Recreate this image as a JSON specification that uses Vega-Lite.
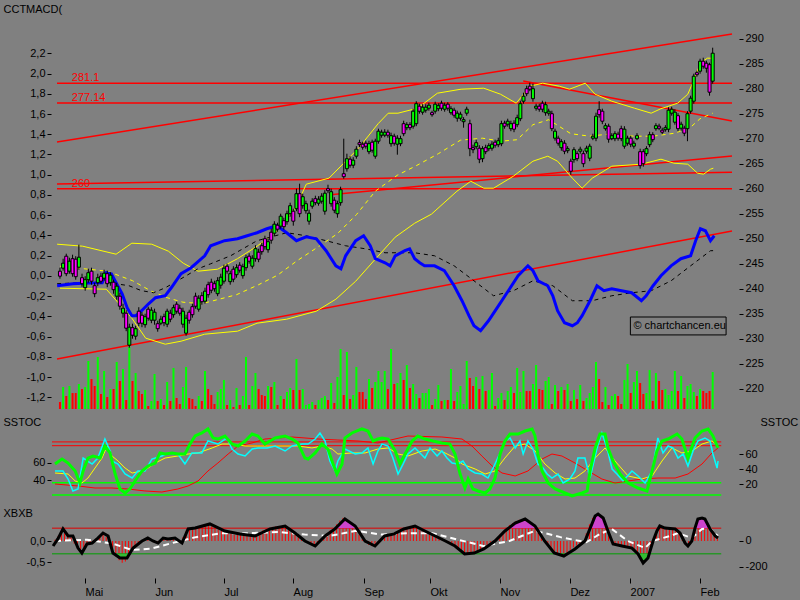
{
"$schema":"https://vega.github.io/schema/vega-lite/v6.json",
"background":"#808080",
"padding":{"left":3,"top":3,"right":6,"bottom":3},
"autosize":{"type":"pad"},
"spacing":10,
"bounds":"flush",
"config":{
 "view":{"stroke":null},
 "axis":{"grid":false,"domain":false,"tickColor":"#000000","tickSize":4,"labelColor":"#000000","labelFont":"Liberation Sans","labelFontSize":11,"titleFont":"Liberation Sans","titleFontSize":11,"titleFontWeight":"normal","titleColor":"#000000","labelPadding":2}
},
"datasets":{
"c":[
{"t":0,"o":243.5,"h":244.2,"l":242,"c":242.5,"v":7,"hb":10},
{"t":1,"o":244.1,"h":246,"l":243.6,"c":245.1,"v":22,"hb":40},
{"t":2,"o":246.5,"h":247,"l":242.5,"c":243,"v":13,"hb":80},
{"t":3,"o":243.5,"h":246.2,"l":243,"c":245.5,"v":23,"hb":60},
{"t":4,"o":246,"h":246.8,"l":242.4,"c":243,"v":16,"hb":35},
{"t":5,"o":245.9,"h":246.5,"l":241.8,"c":242.4,"v":16,"hb":30},
{"t":6,"o":244.3,"h":248.8,"l":243.8,"c":246.3,"v":25,"hb":-20},
{"t":7,"o":242.2,"h":243,"l":240.4,"c":241,"v":20,"hb":-50},
{"t":8,"o":240.2,"h":242.5,"l":239.6,"c":241.8,"v":22,"hb":-80},
{"t":9,"o":241.8,"h":244,"l":241.2,"c":243.2,"v":48,"hb":-50},
{"t":10,"o":243.5,"h":244.2,"l":240.8,"c":241.5,"v":30,"hb":-20},
{"t":11,"o":240.6,"h":241.2,"l":238.3,"c":239,"v":23,"hb":-10},
{"t":12,"o":241.2,"h":243,"l":240.5,"c":242.2,"v":52,"hb":5},
{"t":13,"o":242.5,"h":243.2,"l":241,"c":241.5,"v":15,"hb":20},
{"t":14,"o":242.1,"h":243.8,"l":241.6,"c":243.1,"v":38,"hb":45},
{"t":15,"o":243,"h":243.6,"l":240.3,"c":241,"v":12,"hb":55},
{"t":16,"o":241.2,"h":243.3,"l":240.6,"c":242.7,"v":20,"hb":30},
{"t":17,"o":241.3,"h":241.8,"l":239,"c":239.8,"v":20,"hb":-30},
{"t":18,"o":238.5,"h":241.2,"l":237.8,"c":240.5,"v":47,"hb":-90},
{"t":19,"o":238.5,"h":239.2,"l":235.8,"c":236.5,"v":28,"hb":-120},
{"t":20,"o":235.1,"h":237,"l":234.2,"c":236.1,"v":40,"hb":-150},
{"t":21,"o":235.1,"h":235.7,"l":231.5,"c":232.1,"v":9,"hb":-170},
{"t":22,"o":228.7,"h":233,"l":228.2,"c":232.3,"v":62,"hb":-160},
{"t":23,"o":232.2,"h":233,"l":230,"c":230.7,"v":28,"hb":-120},
{"t":24,"o":230.5,"h":232.6,"l":229.8,"c":232,"v":36,"hb":-70},
{"t":25,"o":235.5,"h":236.3,"l":232.5,"c":233.1,"v":18,"hb":-40},
{"t":26,"o":234.7,"h":235.3,"l":232.3,"c":233.1,"v":15,"hb":-15},
{"t":27,"o":232.8,"h":235,"l":232.2,"c":234.4,"v":19,"hb":0},
{"t":28,"o":235.9,"h":236.4,"l":233.6,"c":234.1,"v":3,"hb":15},
{"t":29,"o":233.7,"h":236.3,"l":233.1,"c":235.7,"v":8,"hb":20},
{"t":30,"o":233.7,"h":236,"l":232.8,"c":235.3,"v":35,"hb":5},
{"t":31,"o":233,"h":233.6,"l":231.4,"c":232,"v":8,"hb":-10},
{"t":32,"o":233.1,"h":234.6,"l":232.7,"c":233.9,"v":10,"hb":-5},
{"t":33,"o":234.4,"h":235,"l":232.5,"c":233.2,"v":4,"hb":15},
{"t":34,"o":232.9,"h":236,"l":232.3,"c":235.5,"v":27,"hb":20},
{"t":35,"o":235.1,"h":235.8,"l":233.3,"c":233.9,"v":8,"hb":15},
{"t":36,"o":234.8,"h":236.8,"l":234.2,"c":236.2,"v":41,"hb":20},
{"t":37,"o":236.9,"h":237.4,"l":235,"c":235.5,"v":11,"hb":20},
{"t":38,"o":236.1,"h":236.8,"l":234.6,"c":235.1,"v":5,"hb":0},
{"t":39,"o":232.9,"h":236.2,"l":232.2,"c":235.5,"v":22,"hb":-15},
{"t":40,"o":231.1,"h":234.8,"l":230.6,"c":234.1,"v":42,"hb":30},
{"t":41,"o":235.3,"h":235.8,"l":233,"c":233.7,"v":11,"hb":80},
{"t":42,"o":236.4,"h":237,"l":234.2,"c":234.8,"v":10,"hb":95},
{"t":43,"o":238.5,"h":239.2,"l":236,"c":236.5,"v":3,"hb":100},
{"t":44,"o":235.9,"h":238.7,"l":235.4,"c":238.1,"v":13,"hb":105},
{"t":45,"o":238.6,"h":239.3,"l":236.8,"c":237.4,"v":8,"hb":110},
{"t":46,"o":237.5,"h":240.2,"l":237,"c":239.5,"v":38,"hb":120},
{"t":47,"o":240.8,"h":241.4,"l":238.2,"c":238.8,"v":20,"hb":125},
{"t":48,"o":241.3,"h":242,"l":239.1,"c":239.7,"v":14,"hb":130},
{"t":49,"o":241,"h":241.6,"l":239.4,"c":240,"v":5,"hb":115},
{"t":50,"o":239,"h":242.3,"l":238.5,"c":241.6,"v":17,"hb":100},
{"t":51,"o":240.7,"h":243,"l":240,"c":242.3,"v":20,"hb":90},
{"t":52,"o":241.5,"h":244.8,"l":241,"c":244.1,"v":29,"hb":80},
{"t":53,"o":244.5,"h":245,"l":243,"c":243.5,"v":4,"hb":70},
{"t":54,"o":241.4,"h":243.6,"l":240.8,"c":243,"v":9,"hb":60},
{"t":55,"o":243.9,"h":244.5,"l":241.3,"c":241.9,"v":2,"hb":55},
{"t":56,"o":242.8,"h":244.9,"l":242.2,"c":244.2,"v":21,"hb":50},
{"t":57,"o":244.7,"h":245.3,"l":243.2,"c":243.7,"v":4,"hb":55},
{"t":58,"o":242.6,"h":245,"l":242,"c":244.4,"v":13,"hb":50},
{"t":59,"o":244.2,"h":246.8,"l":243.6,"c":246.2,"v":52,"hb":45},
{"t":60,"o":246.5,"h":247.1,"l":245,"c":245.5,"v":4,"hb":40},
{"t":61,"o":244.5,"h":246.7,"l":244,"c":246.1,"v":23,"hb":35},
{"t":62,"o":246,"h":248.7,"l":245.4,"c":248,"v":36,"hb":40},
{"t":63,"o":247.3,"h":248,"l":245.3,"c":245.9,"v":20,"hb":55},
{"t":64,"o":248.6,"h":249.2,"l":246.8,"c":247.4,"v":14,"hb":70},
{"t":65,"o":250,"h":250.6,"l":247.8,"c":248.4,"v":13,"hb":85},
{"t":66,"o":247.8,"h":250,"l":247.2,"c":249.4,"v":23,"hb":95},
{"t":67,"o":251.3,"h":252,"l":249,"c":249.7,"v":22,"hb":100},
{"t":68,"o":251.1,"h":253.5,"l":250.5,"c":252.9,"v":27,"hb":110},
{"t":69,"o":252.7,"h":253.2,"l":251.4,"c":251.9,"v":4,"hb":115},
{"t":70,"o":252.5,"h":255,"l":252,"c":254.5,"v":13,"hb":115},
{"t":71,"o":253.6,"h":254.2,"l":251.8,"c":252.4,"v":10,"hb":110},
{"t":72,"o":253.4,"h":255.6,"l":252.8,"c":255,"v":17,"hb":100},
{"t":73,"o":255,"h":257.2,"l":254.4,"c":256.6,"v":21,"hb":85},
{"t":74,"o":255.5,"h":256,"l":252.6,"c":253.5,"v":19,"hb":65},
{"t":75,"o":256,"h":260,"l":255.5,"c":259,"v":50,"hb":50},
{"t":76,"o":259,"h":261,"l":254.3,"c":255,"v":19,"hb":30},
{"t":77,"o":256.6,"h":259,"l":256,"c":258.4,"v":20,"hb":10},
{"t":78,"o":255.6,"h":257.6,"l":255,"c":257,"v":4,"hb":0},
{"t":79,"o":253.5,"h":255.8,"l":252.8,"c":255.1,"v":5,"hb":-15},
{"t":80,"o":256.5,"h":258.1,"l":256,"c":257.5,"v":7,"hb":-30},
{"t":81,"o":258,"h":258.6,"l":256.7,"c":257.2,"v":4,"hb":-35},
{"t":82,"o":257.1,"h":258.5,"l":256.6,"c":257.9,"v":9,"hb":-20},
{"t":83,"o":257.5,"h":259.1,"l":257,"c":258.5,"v":11,"hb":10},
{"t":84,"o":255.5,"h":259.7,"l":254.8,"c":259.1,"v":13,"hb":40},
{"t":85,"o":260,"h":260.8,"l":259.1,"c":259.6,"v":9,"hb":60},
{"t":86,"o":257,"h":260,"l":256.4,"c":259.4,"v":26,"hb":85},
{"t":87,"o":257.7,"h":258.3,"l":255.1,"c":255.7,"v":6,"hb":100},
{"t":88,"o":255,"h":257.6,"l":254.2,"c":257,"v":32,"hb":130},
{"t":89,"o":257.2,"h":260.4,"l":256.6,"c":259.8,"v":60,"hb":160},
{"t":90,"o":263,"h":270,"l":262,"c":262.4,"v":14,"hb":180},
{"t":91,"o":264,"h":267,"l":263.4,"c":266,"v":57,"hb":165},
{"t":92,"o":265.9,"h":266.5,"l":264.2,"c":264.7,"v":10,"hb":140},
{"t":93,"o":264.7,"h":266.3,"l":264.1,"c":265.7,"v":14,"hb":120},
{"t":94,"o":266.5,"h":268.5,"l":266,"c":267.9,"v":42,"hb":90},
{"t":95,"o":269.2,"h":269.8,"l":268.3,"c":268.8,"v":17,"hb":50},
{"t":96,"o":268.9,"h":269.4,"l":267.8,"c":268.3,"v":17,"hb":15},
{"t":97,"o":269.1,"h":269.6,"l":268,"c":268.5,"v":10,"hb":-10},
{"t":98,"o":267.4,"h":269.6,"l":266.9,"c":269,"v":30,"hb":-30},
{"t":99,"o":269.3,"h":269.8,"l":267.2,"c":267.7,"v":21,"hb":-40},
{"t":100,"o":266.5,"h":270,"l":266,"c":269.5,"v":27,"hb":-35},
{"t":101,"o":269.5,"h":272,"l":269,"c":271.5,"v":38,"hb":-10},
{"t":102,"o":270.7,"h":271.8,"l":270.2,"c":271.3,"v":27,"hb":20},
{"t":103,"o":270.7,"h":271.9,"l":270.3,"c":271.3,"v":38,"hb":40},
{"t":104,"o":271.3,"h":271.8,"l":270.2,"c":270.7,"v":20,"hb":50},
{"t":105,"o":269,"h":271.2,"l":268.4,"c":270.6,"v":60,"hb":55},
{"t":106,"o":270.5,"h":271,"l":268.6,"c":269.1,"v":25,"hb":60},
{"t":107,"o":268.9,"h":270.7,"l":266.8,"c":270.1,"v":26,"hb":75},
{"t":108,"o":269,"h":270.6,"l":268.5,"c":270,"v":36,"hb":90},
{"t":109,"o":273,"h":273.6,"l":270.5,"c":271,"v":29,"hb":100},
{"t":110,"o":272.2,"h":273.3,"l":271.7,"c":272.8,"v":44,"hb":110},
{"t":111,"o":272.8,"h":273.3,"l":271.7,"c":272.2,"v":21,"hb":115},
{"t":112,"o":272.5,"h":276,"l":272,"c":275.5,"v":25,"hb":115},
{"t":113,"o":273,"h":277.5,"l":272.5,"c":277,"v":15,"hb":100},
{"t":114,"o":276.5,"h":277,"l":275,"c":275.5,"v":11,"hb":85},
{"t":115,"o":275.3,"h":276.9,"l":274.8,"c":276.3,"v":16,"hb":75},
{"t":116,"o":275.7,"h":276.9,"l":275.2,"c":276.3,"v":16,"hb":65},
{"t":117,"o":276.1,"h":277.2,"l":275.6,"c":276.7,"v":20,"hb":55},
{"t":118,"o":275.2,"h":275.6,"l":274.4,"c":274.8,"v":4,"hb":40},
{"t":119,"o":275.5,"h":277.4,"l":275,"c":276.9,"v":10,"hb":30},
{"t":120,"o":276,"h":277.1,"l":275.5,"c":276.6,"v":24,"hb":15},
{"t":121,"o":277.1,"h":277.6,"l":275.6,"c":276.1,"v":8,"hb":5},
{"t":122,"o":275.9,"h":277.2,"l":275.4,"c":276.7,"v":9,"hb":-5},
{"t":123,"o":276.9,"h":277.3,"l":275.6,"c":276.1,"v":9,"hb":-15},
{"t":124,"o":275.2,"h":276.5,"l":274.8,"c":276,"v":40,"hb":-30},
{"t":125,"o":275.7,"h":276.2,"l":274.2,"c":274.7,"v":8,"hb":-45},
{"t":126,"o":274.1,"h":275.6,"l":273.4,"c":275.1,"v":17,"hb":-65},
{"t":127,"o":274.1,"h":275.4,"l":273.6,"c":274.9,"v":23,"hb":-85},
{"t":128,"o":273.4,"h":274.3,"l":272.2,"c":273.8,"v":5,"hb":-100},
{"t":129,"o":275.1,"h":276.4,"l":274.6,"c":275.9,"v":48,"hb":-100},
{"t":130,"o":273,"h":273.8,"l":266.5,"c":268,"v":31,"hb":-95},
{"t":131,"o":268.2,"h":268.8,"l":267.1,"c":267.8,"v":23,"hb":-90},
{"t":132,"o":268.4,"h":269.8,"l":267.9,"c":269.2,"v":32,"hb":-80},
{"t":133,"o":268.1,"h":268.7,"l":265.1,"c":265.9,"v":20,"hb":-65},
{"t":134,"o":266,"h":268.5,"l":265.3,"c":268,"v":33,"hb":-50},
{"t":135,"o":268.2,"h":268.8,"l":266.9,"c":267.4,"v":18,"hb":-30},
{"t":136,"o":268,"h":269.1,"l":267.5,"c":268.6,"v":19,"hb":-10},
{"t":137,"o":268.1,"h":269.5,"l":267.6,"c":268.9,"v":36,"hb":5},
{"t":138,"o":269.3,"h":269.8,"l":268.2,"c":268.7,"v":3,"hb":25},
{"t":139,"o":268.8,"h":270.2,"l":268.3,"c":269.6,"v":11,"hb":50},
{"t":140,"o":269,"h":273.6,"l":268.5,"c":273,"v":16,"hb":75},
{"t":141,"o":273.1,"h":273.6,"l":272,"c":272.5,"v":9,"hb":105},
{"t":142,"o":272.9,"h":274,"l":272.4,"c":273.5,"v":18,"hb":125},
{"t":143,"o":272,"h":273.6,"l":271.5,"c":273,"v":22,"hb":140},
{"t":144,"o":273.1,"h":273.7,"l":271.3,"c":271.9,"v":16,"hb":155},
{"t":145,"o":272.8,"h":274.8,"l":272.3,"c":274.2,"v":41,"hb":165},
{"t":146,"o":274,"h":277.6,"l":273.5,"c":277,"v":17,"hb":170},
{"t":147,"o":277.5,"h":279.2,"l":277,"c":278.5,"v":38,"hb":165},
{"t":148,"o":280,"h":280.6,"l":278.5,"c":279,"v":18,"hb":150},
{"t":149,"o":280.5,"h":281.2,"l":279.5,"c":279.9,"v":18,"hb":130},
{"t":150,"o":278,"h":281,"l":277.4,"c":280,"v":25,"hb":110},
{"t":151,"o":276.1,"h":277,"l":275.6,"c":276.5,"v":44,"hb":75},
{"t":152,"o":276.5,"h":277,"l":275.4,"c":275.9,"v":20,"hb":35},
{"t":153,"o":277.1,"h":277.6,"l":275.3,"c":275.9,"v":19,"hb":0},
{"t":154,"o":275.2,"h":277.4,"l":274.6,"c":276.8,"v":28,"hb":-35},
{"t":155,"o":275.1,"h":276,"l":274.6,"c":275.5,"v":32,"hb":-65},
{"t":156,"o":275,"h":275.6,"l":271.5,"c":272,"v":5,"hb":-90},
{"t":157,"o":270.1,"h":272,"l":269.6,"c":271.5,"v":24,"hb":-105},
{"t":158,"o":270.1,"h":270.6,"l":268.6,"c":269.1,"v":18,"hb":-115},
{"t":159,"o":268.2,"h":269.9,"l":267.6,"c":269.4,"v":22,"hb":-110},
{"t":160,"o":269.1,"h":269.7,"l":266.9,"c":267.5,"v":19,"hb":-90},
{"t":161,"o":267.6,"h":268.5,"l":267.1,"c":268,"v":25,"hb":-70},
{"t":162,"o":265.5,"h":266,"l":262.8,"c":263.5,"v":8,"hb":-50},
{"t":163,"o":265.8,"h":268.3,"l":265.2,"c":267.8,"v":19,"hb":-35},
{"t":164,"o":267,"h":267.5,"l":265.5,"c":266,"v":10,"hb":-20},
{"t":165,"o":267.5,"h":268.4,"l":267,"c":267.9,"v":24,"hb":0},
{"t":166,"o":267,"h":267.6,"l":264.3,"c":265,"v":8,"hb":60},
{"t":167,"o":267.5,"h":268.6,"l":267,"c":268.1,"v":11,"hb":130},
{"t":168,"o":266.1,"h":269,"l":265.5,"c":268.5,"v":16,"hb":180},
{"t":169,"o":270.1,"h":271,"l":269.7,"c":270.5,"v":22,"hb":200},
{"t":170,"o":270.1,"h":275.2,"l":269.5,"c":274.5,"v":47,"hb":195},
{"t":171,"o":275.8,"h":277.5,"l":274.2,"c":274.8,"v":30,"hb":170},
{"t":172,"o":275.5,"h":276,"l":272.9,"c":273.5,"v":7,"hb":100},
{"t":173,"o":272,"h":273.1,"l":271.6,"c":272.6,"v":22,"hb":40},
{"t":174,"o":272.5,"h":273,"l":269.2,"c":269.9,"v":4,"hb":-15},
{"t":175,"o":270,"h":271.1,"l":269.7,"c":270.6,"v":13,"hb":-30},
{"t":176,"o":270,"h":271.5,"l":269.5,"c":271,"v":15,"hb":-35},
{"t":177,"o":270.9,"h":271.4,"l":269.6,"c":270.1,"v":13,"hb":-40},
{"t":178,"o":272,"h":272.6,"l":269.5,"c":270,"v":5,"hb":-45},
{"t":179,"o":268.5,"h":272.5,"l":268,"c":271.9,"v":29,"hb":-50},
{"t":180,"o":269.1,"h":270.6,"l":268.6,"c":270.1,"v":45,"hb":-55},
{"t":181,"o":270.1,"h":270.6,"l":268.3,"c":268.9,"v":16,"hb":-70},
{"t":182,"o":268.5,"h":269.6,"l":268,"c":269.1,"v":27,"hb":-100},
{"t":183,"o":270,"h":271.1,"l":269.7,"c":270.6,"v":38,"hb":-140},
{"t":184,"o":267.4,"h":268,"l":264,"c":264.6,"v":26,"hb":-170},
{"t":185,"o":267.4,"h":267.9,"l":264.4,"c":265,"v":15,"hb":-140},
{"t":186,"o":267,"h":268.5,"l":266.5,"c":268,"v":16,"hb":-60},
{"t":187,"o":268.8,"h":271.4,"l":268.3,"c":270.8,"v":39,"hb":20},
{"t":188,"o":270.8,"h":271.3,"l":269.3,"c":269.8,"v":8,"hb":75},
{"t":189,"o":272,"h":273.1,"l":271.6,"c":272.6,"v":36,"hb":110},
{"t":190,"o":272.5,"h":273,"l":271.7,"c":272.1,"v":28,"hb":105},
{"t":191,"o":271.7,"h":272.2,"l":270.9,"c":271.3,"v":19,"hb":100},
{"t":192,"o":271.8,"h":272.7,"l":271.4,"c":272.2,"v":20,"hb":95},
{"t":193,"o":271.9,"h":276.3,"l":271.3,"c":275.7,"v":14,"hb":90},
{"t":194,"o":275.1,"h":276.4,"l":274.6,"c":275.9,"v":18,"hb":80},
{"t":195,"o":273.3,"h":275.9,"l":272.8,"c":275.3,"v":38,"hb":60},
{"t":196,"o":274.6,"h":275.1,"l":271.5,"c":272,"v":18,"hb":10},
{"t":197,"o":272.1,"h":273.4,"l":271.6,"c":272.9,"v":33,"hb":-30},
{"t":198,"o":272.1,"h":272.6,"l":270.5,"c":271.1,"v":11,"hb":-20},
{"t":199,"o":272,"h":275.5,"l":269.5,"c":275,"v":23,"hb":30},
{"t":200,"o":275.5,"h":278.6,"l":275,"c":278.1,"v":25,"hb":100},
{"t":201,"o":277.5,"h":283,"l":277,"c":282.5,"v":17,"hb":170},
{"t":202,"o":283.2,"h":283.6,"l":282.4,"c":282.8,"v":13,"hb":185},
{"t":203,"o":283.5,"h":286,"l":283,"c":285.5,"v":20,"hb":170},
{"t":204,"o":285.5,"h":286.2,"l":284,"c":284.5,"v":18,"hb":120},
{"t":205,"o":285.1,"h":285.6,"l":283.2,"c":284.1,"v":16,"hb":70},
{"t":206,"o":284.8,"h":285.2,"l":278.6,"c":279.3,"v":18,"hb":40},
{"t":207,"o":281.5,"h":288.2,"l":281,"c":287.1,"v":37,"hb":25}
],
"tl":[
{"t":-0.9375,"p":269.34,"t2":213.125,"p2":290.94},
{"t":-0.9375,"p":225.94,"t2":213.125,"p2":251.54},
{"t":146.9,"p":281.54,"t2":213.125,"p2":273.54},
{"t":-0.9375,"p":260.94,"t2":213.125,"p2":263.3},
{"t":86.6,"p":258.84,"t2":213.125,"p2":266.54}
],
"hl":[
{"t":-0.9375,"t2":213.125,"p":281.1},
{"t":-0.9375,"t2":213.125,"p":277.14},
{"t":-0.9375,"t2":213.125,"p":260}
],
"hlab":[
{"t":3.75,"p":281.1,"lab":"281.1"},
{"t":3.75,"p":277.14,"lab":"277.14"},
{"t":3.75,"p":260,"lab":"260"}
],
"wm":[{"t":180.9,"t2":211.25,"a":-0.406,"b":-0.583,"m":-0.497,"lab":"© chartchancen.eu"}],
"span":[{"t":-0.9375,"t2":208.2}],
"bu":[
{"t":-0.9,"v":248.9},{"t":7.2,"v":248.5},{"t":17.8,"v":246.9},{"t":22.8,"v":249.1},{"t":29.1,"v":248.9},{"t":34.4,"v":247.5},{"t":39.1,"v":245.1},{"t":43.8,"v":243.5},{"t":50,"v":243.9},{"t":56.3,"v":246},{"t":62.5,"v":248.5},{"t":68.8,"v":251.5},{"t":75,"v":256.5},{"t":78.1,"v":260.9},{"t":85.3,"v":262.1},{"t":94.7,"v":268.1},{"t":100.9,"v":273},{"t":104.1,"v":275.1},{"t":107.2,"v":275.1},{"t":113.4,"v":276.1},{"t":119.7,"v":279.1},{"t":127.2,"v":279.9},{"t":134.4,"v":280.1},{"t":139.7,"v":278.9},{"t":144.7,"v":277.1},{"t":149.1,"v":280.5},{"t":153.1,"v":281.1},{"t":158.4,"v":280.5},{"t":161.6,"v":279.9},{"t":166.6,"v":281.1},{"t":169.7,"v":278.9},{"t":175,"v":277.5},{"t":182.2,"v":276.1},{"t":187.5,"v":275.1},{"t":190.6,"v":276},{"t":195.9,"v":277.1},{"t":199.1,"v":278.9},{"t":200.9,"v":281.5},{"t":203.1,"v":285.1},{"t":205.3,"v":286.1},{"t":207.2,"v":286.1}
],
"bl":[
{"t":0,"v":240.1},{"t":14.7,"v":239.9},{"t":22.8,"v":234.1},{"t":27.2,"v":230.1},{"t":33.4,"v":228.9},{"t":38.4,"v":229.5},{"t":45.9,"v":230.9},{"t":56.3,"v":231.5},{"t":62.5,"v":233.1},{"t":71.9,"v":233.9},{"t":81.3,"v":235.5},{"t":87.5,"v":237.9},{"t":93.8,"v":241.5},{"t":100,"v":245.9},{"t":106.3,"v":250.3},{"t":112.5,"v":253.1},{"t":117.8,"v":254.9},{"t":125.9,"v":259.5},{"t":130.3,"v":261.5},{"t":134.4,"v":260.1},{"t":137.5,"v":260.1},{"t":143.8,"v":262.5},{"t":150,"v":265.5},{"t":154.7,"v":266.5},{"t":157.8,"v":265.5},{"t":162.5,"v":262.1},{"t":165.6,"v":260.1},{"t":168.8,"v":262.1},{"t":175,"v":264.5},{"t":184.4,"v":264.9},{"t":190.6,"v":265.9},{"t":194.7,"v":265.1},{"t":199.1,"v":264.9},{"t":202.2,"v":263.1},{"t":204.1,"v":262.9},{"t":206.3,"v":263.9},{"t":207.2,"v":264.1}
],
"bm":[
{"t":0,"v":244.5},{"t":15,"v":243.5},{"t":23,"v":241.6},{"t":29,"v":239.5},{"t":34,"v":238.2},{"t":39,"v":237.3},{"t":45,"v":237},{"t":56,"v":238.8},{"t":63,"v":240.8},{"t":69,"v":242.7},{"t":75,"v":245.5},{"t":81,"v":248},{"t":88,"v":251},{"t":94,"v":254.8},{"t":100,"v":259.5},{"t":107,"v":262.7},{"t":113,"v":264.6},{"t":120,"v":267},{"t":127,"v":269.7},{"t":134,"v":270.1},{"t":140,"v":269.5},{"t":145,"v":269.8},{"t":150,"v":272.8},{"t":155,"v":273.8},{"t":162,"v":271},{"t":168,"v":270.5},{"t":175,"v":271},{"t":182,"v":270.5},{"t":188,"v":270.5},{"t":195,"v":271.1},{"t":200,"v":272.3},{"t":203,"v":274},{"t":207,"v":275.1}
],
"md":[
{"t":-0.9,"v":-0.097},{"t":4.1,"v":-0.077},{"t":9,"v":-0.07},{"t":13.4,"v":-0.067},{"t":14.7,"v":0.031},{"t":16.3,"v":0.021},{"t":17.8,"v":-0.067},{"t":19.7,"v":-0.176},{"t":21.3,"v":-0.314},{"t":22.8,"v":-0.393},{"t":24.1,"v":-0.393},{"t":25.9,"v":-0.344},{"t":28.1,"v":-0.275},{"t":30.3,"v":-0.215},{"t":33.4,"v":-0.196},{"t":35.3,"v":-0.117},{"t":38.4,"v":0.022},{"t":41.6,"v":0.081},{"t":45.9,"v":0.199},{"t":47.8,"v":0.298},{"t":52.2,"v":0.348},{"t":56.3,"v":0.367},{"t":59.4,"v":0.397},{"t":62.5,"v":0.427},{"t":65.6,"v":0.466},{"t":68.8,"v":0.496},{"t":71.9,"v":0.427},{"t":75,"v":0.348},{"t":78.1,"v":0.387},{"t":81.3,"v":0.367},{"t":84.4,"v":0.249},{"t":87.5,"v":0.1},{"t":89.1,"v":0.071},{"t":90.6,"v":0.199},{"t":93.8,"v":0.348},{"t":96.3,"v":0.397},{"t":98.4,"v":0.298},{"t":100,"v":0.17},{"t":103.1,"v":0.13},{"t":104.7,"v":0.1},{"t":106.3,"v":0.199},{"t":109.4,"v":0.249},{"t":110.9,"v":0.268},{"t":112.5,"v":0.17},{"t":114.1,"v":0.13},{"t":115.6,"v":0.1},{"t":118.8,"v":0.1},{"t":121.9,"v":0.051},{"t":125,"v":-0.097},{"t":127.5,"v":-0.245},{"t":129.7,"v":-0.393},{"t":131.3,"v":-0.492},{"t":133.4,"v":-0.541},{"t":135.9,"v":-0.443},{"t":139.1,"v":-0.294},{"t":142.2,"v":-0.146},{"t":145.3,"v":0.002},{"t":148.4,"v":0.1},{"t":150,"v":0.051},{"t":151.6,"v":-0.048},{"t":154.7,"v":-0.097},{"t":156.3,"v":-0.196},{"t":157.8,"v":-0.344},{"t":160,"v":-0.462},{"t":162.5,"v":-0.492},{"t":164.1,"v":-0.462},{"t":165.6,"v":-0.393},{"t":168.1,"v":-0.245},{"t":170.3,"v":-0.097},{"t":172.5,"v":-0.146},{"t":175,"v":-0.127},{"t":178.1,"v":-0.146},{"t":181.3,"v":-0.166},{"t":184.4,"v":-0.245},{"t":185.9,"v":-0.196},{"t":188.1,"v":-0.097},{"t":190.6,"v":0.002},{"t":193.8,"v":0.1},{"t":196.9,"v":0.17},{"t":200,"v":0.199},{"t":201.6,"v":0.348},{"t":203.1,"v":0.466},{"t":204.7,"v":0.446},{"t":206.3,"v":0.348},{"t":207.5,"v":0.397}
],
"sg":[
{"t":-0.9,"v":-0.077},{"t":6.3,"v":-0.067},{"t":15.6,"v":-0.067},{"t":21.9,"v":-0.097},{"t":25.9,"v":-0.146},{"t":29.7,"v":-0.166},{"t":33.4,"v":-0.117},{"t":38.4,"v":-0.028},{"t":43.8,"v":0.071},{"t":47.8,"v":0.12},{"t":54.1,"v":0.199},{"t":62.5,"v":0.348},{"t":71.9,"v":0.427},{"t":78.1,"v":0.397},{"t":84.4,"v":0.348},{"t":90.6,"v":0.298},{"t":96.9,"v":0.268},{"t":103.1,"v":0.229},{"t":112.5,"v":0.229},{"t":118.8,"v":0.199},{"t":125,"v":0.1},{"t":131.3,"v":-0.048},{"t":137.5,"v":-0.196},{"t":143.8,"v":-0.146},{"t":150,"v":-0.048},{"t":156.3,"v":-0.097},{"t":162.5,"v":-0.245},{"t":168.8,"v":-0.245},{"t":175,"v":-0.196},{"t":181.3,"v":-0.166},{"t":187.5,"v":-0.146},{"t":193.8,"v":-0.048},{"t":200,"v":0.1},{"t":206.3,"v":0.249},{"t":207.5,"v":0.25}
],
"stg":[
{"t":0,"v":46.8},{"t":2.2,"v":53.4},{"t":4.1,"v":48.1},{"t":6.3,"v":37.6},{"t":7.8,"v":21.7},{"t":8.8,"v":37.6},{"t":10.3,"v":54.7},{"t":11.9,"v":57.4},{"t":14.1,"v":54.7},{"t":15.6,"v":70.6},{"t":17.2,"v":61.4},{"t":18.8,"v":33.6},{"t":20.3,"v":13.8},{"t":21.9,"v":8.5},{"t":23.4,"v":13.8},{"t":25,"v":24.4},{"t":27.2,"v":37.6},{"t":29.1,"v":44.2},{"t":31.3,"v":48.1},{"t":32.8,"v":61.4},{"t":34.4,"v":60},{"t":36.6,"v":61.4},{"t":38.4,"v":60},{"t":40.6,"v":60},{"t":42.2,"v":73.2},{"t":43.8,"v":83.8},{"t":45.9,"v":87.8},{"t":47.8,"v":93.1},{"t":49.4,"v":81.2},{"t":50.9,"v":79.8},{"t":53.1,"v":83.8},{"t":55.3,"v":73.2},{"t":57.2,"v":70.6},{"t":59.4,"v":77.2},{"t":61.6,"v":86.4},{"t":63.4,"v":83.8},{"t":65.6,"v":73.2},{"t":68.8,"v":81.2},{"t":71.9,"v":83.8},{"t":74.1,"v":79.8},{"t":75.9,"v":74.6},{"t":78.1,"v":54.7},{"t":79.1,"v":53.4},{"t":81.3,"v":61.4},{"t":83.4,"v":73.2},{"t":85.3,"v":66.6},{"t":86.9,"v":46.8},{"t":88.1,"v":33.6},{"t":89.7,"v":46.8},{"t":90.6,"v":81.2},{"t":92.8,"v":87.8},{"t":95.9,"v":93.1},{"t":97.8,"v":90.4},{"t":99.4,"v":77.2},{"t":100.9,"v":79.8},{"t":102.2,"v":81.2},{"t":104.1,"v":79.8},{"t":106.3,"v":64},{"t":107.8,"v":46.8},{"t":109.4,"v":60},{"t":111.6,"v":77.2},{"t":113.4,"v":83.8},{"t":115.6,"v":79.8},{"t":118.1,"v":77.2},{"t":120.9,"v":74.6},{"t":123.4,"v":73.2},{"t":125,"v":60},{"t":126.6,"v":33.6},{"t":128.1,"v":15.1},{"t":129.1,"v":27},{"t":130.6,"v":13.8},{"t":132.2,"v":11.2},{"t":134.4,"v":8.5},{"t":135.9,"v":13.8},{"t":137.5,"v":28.3},{"t":139.1,"v":60},{"t":140.6,"v":77.2},{"t":142.2,"v":86.4},{"t":144.7,"v":86.4},{"t":146.9,"v":90.4},{"t":149.1,"v":93.1},{"t":150,"v":83.8},{"t":150.9,"v":60},{"t":152.2,"v":37.6},{"t":154.1,"v":21.7},{"t":156.3,"v":13.8},{"t":159.4,"v":8.5},{"t":161.6,"v":4.6},{"t":164.7,"v":8.5},{"t":166.3,"v":11.2},{"t":167.2,"v":37.6},{"t":168.8,"v":68},{"t":170.3,"v":86.4},{"t":171.9,"v":86.4},{"t":172.8,"v":68},{"t":174.4,"v":50.8},{"t":176.6,"v":33.6},{"t":179.1,"v":21.7},{"t":182.2,"v":15.1},{"t":185,"v":11.2},{"t":186.6,"v":37.6},{"t":188.1,"v":64},{"t":189.7,"v":77.2},{"t":191.6,"v":79.8},{"t":194.4,"v":86.4},{"t":195.9,"v":79.8},{"t":197.8,"v":54.7},{"t":200,"v":81.2},{"t":202.2,"v":90.4},{"t":204.1,"v":93.1},{"t":205.6,"v":83.8},{"t":206.9,"v":70.6},{"t":207.2,"v":68}
],
"stc":[
{"t":0,"v":37.6},{"t":2.5,"v":37.6},{"t":4.1,"v":27},{"t":5.6,"v":11.2},{"t":7.2,"v":13.8},{"t":8.8,"v":54.7},{"t":11.6,"v":46.8},{"t":13.4,"v":54.7},{"t":15.6,"v":79.8},{"t":17.2,"v":64},{"t":17.8,"v":50.8},{"t":19.7,"v":46.8},{"t":21.9,"v":33.6},{"t":24.1,"v":28.3},{"t":25.9,"v":37.6},{"t":28.1,"v":37.6},{"t":30.3,"v":53.4},{"t":33.4,"v":57.4},{"t":35.3,"v":61.4},{"t":38.4,"v":60},{"t":40.6,"v":46.8},{"t":42.8,"v":61.4},{"t":45.9,"v":61.4},{"t":47.8,"v":77.2},{"t":50.9,"v":73.2},{"t":53.8,"v":81.2},{"t":55.3,"v":66.6},{"t":57.2,"v":60},{"t":59.4,"v":57.4},{"t":61.6,"v":66.6},{"t":63.4,"v":68},{"t":66.3,"v":68},{"t":68.8,"v":70.6},{"t":71.9,"v":64},{"t":74.1,"v":70.6},{"t":77.2,"v":73.2},{"t":79.1,"v":73.2},{"t":81.3,"v":79.8},{"t":82.8,"v":87.8},{"t":84.4,"v":77.2},{"t":85.9,"v":50.8},{"t":87.5,"v":37.6},{"t":88.4,"v":50.8},{"t":90.6,"v":66.6},{"t":93.8,"v":60},{"t":95.9,"v":61.4},{"t":97.8,"v":68},{"t":99.4,"v":46.8},{"t":100.9,"v":64},{"t":102.2,"v":73.2},{"t":104.1,"v":70.6},{"t":105.6,"v":54.7},{"t":107.2,"v":33.6},{"t":108.8,"v":46.8},{"t":110.3,"v":60},{"t":112.5,"v":68},{"t":115.6,"v":54.7},{"t":117.2,"v":68},{"t":119.4,"v":57.4},{"t":120.9,"v":64},{"t":122.5,"v":54.7},{"t":124.1,"v":48.1},{"t":125.9,"v":46.8},{"t":127.5,"v":50.8},{"t":129.1,"v":40.2},{"t":131.3,"v":34.9},{"t":133.4,"v":33.6},{"t":135.3,"v":28.3},{"t":136.9,"v":41.5},{"t":139.1,"v":61.4},{"t":140.6,"v":77.2},{"t":142.2,"v":81.2},{"t":143.8,"v":68},{"t":145.3,"v":77.2},{"t":146.3,"v":60},{"t":147.8,"v":77.2},{"t":149.4,"v":66.6},{"t":150.9,"v":46.8},{"t":152.5,"v":41.5},{"t":153.8,"v":33.6},{"t":155.3,"v":28.3},{"t":157.2,"v":33.6},{"t":158.8,"v":21.7},{"t":160.9,"v":27},{"t":162.5,"v":37.6},{"t":163.4,"v":54.7},{"t":165.6,"v":54.7},{"t":167.2,"v":28.3},{"t":169.4,"v":68},{"t":170.9,"v":87.8},{"t":172.5,"v":68},{"t":174.1,"v":40.2},{"t":175.6,"v":33.6},{"t":177.5,"v":24.4},{"t":180.3,"v":37.6},{"t":182.2,"v":31},{"t":184.4,"v":21.7},{"t":186.6,"v":37.6},{"t":188.4,"v":81.2},{"t":190,"v":61.4},{"t":191.6,"v":70.6},{"t":193.1,"v":68},{"t":194.7,"v":54.7},{"t":196.3,"v":60},{"t":197.8,"v":44.2},{"t":199.4,"v":64},{"t":200.9,"v":77.2},{"t":203.1,"v":81.2},{"t":204.7,"v":77.2},{"t":205.6,"v":60},{"t":206.9,"v":41.5},{"t":207.2,"v":50.8}
],
"sty":[
{"t":0,"v":34.9},{"t":4.1,"v":33.6},{"t":6.3,"v":24.4},{"t":8.4,"v":21.7},{"t":10.3,"v":28.3},{"t":12.5,"v":41.5},{"t":14.7,"v":54.7},{"t":16.3,"v":70.6},{"t":17.8,"v":57.4},{"t":19.7,"v":50.8},{"t":21.9,"v":41.5},{"t":24.1,"v":34.9},{"t":27.2,"v":37.6},{"t":29.1,"v":41.5},{"t":31.3,"v":48.1},{"t":34.4,"v":54.7},{"t":38.4,"v":57.4},{"t":41.6,"v":60},{"t":44.7,"v":61.4},{"t":49.1,"v":68},{"t":52.2,"v":73.2},{"t":55.3,"v":73.2},{"t":59.4,"v":70.6},{"t":63.4,"v":70.6},{"t":69.7,"v":70.6},{"t":75.9,"v":70.6},{"t":80.3,"v":68},{"t":83.4,"v":70.6},{"t":86.6,"v":66.6},{"t":88.4,"v":60},{"t":92.8,"v":61.4},{"t":96.9,"v":61.4},{"t":100.9,"v":66.6},{"t":104.1,"v":68},{"t":107.2,"v":60},{"t":110.3,"v":57.4},{"t":114.7,"v":64},{"t":118.8,"v":66.6},{"t":121.9,"v":61.4},{"t":125,"v":54.7},{"t":127.2,"v":46.8},{"t":131.3,"v":40.2},{"t":134.4,"v":33.6},{"t":137.5,"v":37.6},{"t":140.6,"v":54.7},{"t":143.8,"v":70.6},{"t":146.9,"v":73.2},{"t":150,"v":64},{"t":153.1,"v":46.8},{"t":156.3,"v":34.9},{"t":159.4,"v":27},{"t":162.5,"v":28.3},{"t":165.6,"v":37.6},{"t":168.8,"v":54.7},{"t":171.9,"v":68},{"t":175,"v":50.8},{"t":179.1,"v":31},{"t":183.4,"v":27},{"t":186.6,"v":31},{"t":189.7,"v":50.8},{"t":192.8,"v":68},{"t":195.9,"v":61.4},{"t":199.1,"v":64},{"t":202.2,"v":73.2},{"t":205.3,"v":77.2},{"t":207.2,"v":70.6}
],
"str":[
{"t":0,"v":20.4},{"t":7.2,"v":17.8},{"t":12.5,"v":15.1},{"t":17.8,"v":15.1},{"t":22.8,"v":13.8},{"t":28.1,"v":11.2},{"t":33.4,"v":9.8},{"t":38.4,"v":13.8},{"t":41.6,"v":17.8},{"t":44.7,"v":24.4},{"t":47.8,"v":37.6},{"t":50.9,"v":48.1},{"t":54.1,"v":60},{"t":57.2,"v":70.6},{"t":61.6,"v":74.6},{"t":65.6,"v":79.8},{"t":69.7,"v":81.2},{"t":74.1,"v":82.5},{"t":78.1,"v":81.2},{"t":82.2,"v":79.8},{"t":88.4,"v":78.5},{"t":94.7,"v":77.2},{"t":100.9,"v":74.6},{"t":110.3,"v":83.8},{"t":120.9,"v":82.5},{"t":127.2,"v":79.8},{"t":130.3,"v":70.6},{"t":133.4,"v":57.4},{"t":136.6,"v":44.2},{"t":139.7,"v":34.9},{"t":143.8,"v":31},{"t":147.8,"v":37.6},{"t":152.2,"v":53.4},{"t":155.3,"v":60},{"t":158.4,"v":57.4},{"t":162.5,"v":48.1},{"t":166.6,"v":37.6},{"t":170.9,"v":27},{"t":175,"v":21.7},{"t":179.1,"v":24.4},{"t":183.4,"v":27},{"t":188.4,"v":28.3},{"t":193.8,"v":28.3},{"t":197.8,"v":33.6},{"t":202.2,"v":46.8},{"t":205.3,"v":61.4},{"t":207.2,"v":68}
],
"xb":[
{"t":-0.6,"v":-39},{"t":0.9,"v":16},{"t":2.5,"v":94},{"t":4.1,"v":39},{"t":5.6,"v":39},{"t":7.2,"v":-55},{"t":8.4,"v":-94},{"t":10,"v":-23},{"t":11.6,"v":-16},{"t":13.4,"v":23},{"t":15,"v":62},{"t":16.6,"v":39},{"t":18.1,"v":-94},{"t":20.3,"v":-133},{"t":22.5,"v":-133},{"t":24.4,"v":-55},{"t":27.2,"v":0},{"t":29,"v":23},{"t":30.6,"v":0},{"t":32.2,"v":-16},{"t":33.8,"v":23},{"t":35.3,"v":16},{"t":37.5,"v":23},{"t":39.7,"v":-16},{"t":41.6,"v":94},{"t":43.8,"v":101},{"t":48.4,"v":133},{"t":53.1,"v":78},{"t":57.8,"v":55},{"t":62.5,"v":39},{"t":67.2,"v":94},{"t":71.9,"v":117},{"t":75,"v":62},{"t":78.1,"v":0},{"t":81.3,"v":-39},{"t":84.4,"v":39},{"t":87.5,"v":94},{"t":90.6,"v":171},{"t":93.8,"v":117},{"t":96.9,"v":0},{"t":100,"v":-39},{"t":103,"v":39},{"t":106,"v":55},{"t":109,"v":94},{"t":112.5,"v":117},{"t":115.6,"v":78},{"t":118.8,"v":39},{"t":122,"v":0},{"t":125,"v":-39},{"t":128,"v":-101},{"t":131,"v":-94},{"t":134,"v":-62},{"t":137.5,"v":0},{"t":140.6,"v":78},{"t":143.8,"v":140},{"t":146.9,"v":171},{"t":150,"v":117},{"t":153,"v":0},{"t":156,"v":-94},{"t":159,"v":-117},{"t":162.5,"v":-62},{"t":165.6,"v":0},{"t":168.8,"v":195},{"t":169.7,"v":210},{"t":171.3,"v":179},{"t":172.8,"v":78},{"t":174.4,"v":-23},{"t":177.2,"v":-39},{"t":180.3,"v":-55},{"t":182.2,"v":-101},{"t":183.8,"v":-171},{"t":185.3,"v":-133},{"t":186.9,"v":0},{"t":188.1,"v":78},{"t":189,"v":117},{"t":190.6,"v":101},{"t":193.8,"v":94},{"t":195.3,"v":62},{"t":196.9,"v":-16},{"t":197.8,"v":-39},{"t":199,"v":0},{"t":200,"v":101},{"t":200.9,"v":171},{"t":202.2,"v":179},{"t":203.1,"v":171},{"t":204.7,"v":94},{"t":206.3,"v":39},{"t":207.2,"v":23}
],
"xw":[
{"t":0,"v":0},{"t":10,"v":10},{"t":18,"v":-20},{"t":24,"v":-70},{"t":30,"v":-60},{"t":36,"v":-20},{"t":44,"v":30},{"t":52,"v":60},{"t":60,"v":60},{"t":70,"v":70},{"t":78,"v":50},{"t":86,"v":40},{"t":94,"v":80},{"t":102,"v":50},{"t":110,"v":60},{"t":118,"v":60},{"t":126,"v":10},{"t":134,"v":-40},{"t":142,"v":0},{"t":150,"v":80},{"t":158,"v":30},{"t":166,"v":-10},{"t":170.3,"v":55},{"t":174,"v":94},{"t":179,"v":0},{"t":184.4,"v":-55},{"t":186.6,"v":0},{"t":192.2,"v":39},{"t":194.7,"v":62},{"t":199,"v":23},{"t":202.2,"v":94},{"t":204.7,"v":101},{"t":206.3,"v":55},{"t":207.2,"v":40}
],
"fu":[
{"g":1,"t":87.7,"v":100},{"g":1,"t":90.6,"v":171},{"g":1,"t":93.8,"v":117},{"g":1,"t":94.5,"v":100},
{"g":2,"t":141.7,"v":100},{"g":2,"t":143.8,"v":140},{"g":2,"t":146.9,"v":171},{"g":2,"t":150,"v":117},{"g":2,"t":150.9,"v":100},
{"g":3,"t":167.2,"v":100},{"g":3,"t":168.8,"v":195},{"g":3,"t":169.7,"v":210},{"g":3,"t":171.3,"v":179},{"g":3,"t":172.4,"v":100},
{"g":4,"t":200,"v":100},{"g":4,"t":200.9,"v":171},{"g":4,"t":202.2,"v":179},{"g":4,"t":203.1,"v":171},{"g":4,"t":204.1,"v":100}
],
"fd":[
{"g":1,"t":19.2,"v":-100},{"g":1,"t":20.3,"v":-133},{"g":1,"t":22.5,"v":-133},{"g":1,"t":23.5,"v":-100},
{"g":2,"t":182.1,"v":-100},{"g":2,"t":183.8,"v":-171},{"g":2,"t":185.3,"v":-133},{"g":2,"t":185.6,"v":-100},
{"g":3,"t":157.5,"v":-100},{"g":3,"t":159,"v":-117},{"g":3,"t":160.5,"v":-100}
]
},
"vconcat":[
{
"width":685,"height":390,
"encoding":{"x":{"field":"t","type":"quantitative","scale":{"domain":[-0.9375,213.125],"nice":false,"zero":false},"axis":null}},
"layer":[
{"data":{"name":"c"},"mark":{"type":"bar","size":2},"encoding":{"y":{"field":"v","type":"quantitative","scale":{"domain":[0,390],"nice":false},"axis":null},"color":{"condition":{"test":"datum.c>=datum.o","value":"#00ff00"},"value":"#ff0000"}}},
{"data":{"name":"tl"},"mark":{"type":"rule","color":"#ff0000","strokeWidth":1.5},"encoding":{"x2":{"field":"t2"},"y":{"field":"p","type":"quantitative","scale":{"domain":[215.94,293.94],"nice":false,"zero":false},"axis":{"orient":"right","values":[220,225,230,235,240,245,250,255,260,265,270,275,280,285,290],"offset":2,"title":null}},"y2":{"field":"p2"}}},
{"data":{"name":"hl"},"mark":{"type":"rule","color":"#ff0000","strokeWidth":1.5},"encoding":{"x2":{"field":"t2"},"y":{"field":"p","type":"quantitative","scale":{"domain":[215.94,293.94],"nice":false,"zero":false},"axis":null}}},
{"data":{"name":"hlab"},"mark":{"type":"text","color":"#ff0000","align":"left","baseline":"alphabetic","dy":-2,"font":"Liberation Sans","fontSize":11},"encoding":{"y":{"field":"p","type":"quantitative","scale":{"domain":[215.94,293.94],"nice":false,"zero":false},"axis":null},"text":{"field":"lab"}}},
{"data":{"name":"bu"},"mark":{"type":"line","color":"#ffff00","strokeWidth":1},"encoding":{"y":{"field":"v","type":"quantitative","scale":{"domain":[215.94,293.94],"nice":false,"zero":false},"axis":null}}},
{"data":{"name":"bl"},"mark":{"type":"line","color":"#ffff00","strokeWidth":1},"encoding":{"y":{"field":"v","type":"quantitative","scale":{"domain":[215.94,293.94],"nice":false,"zero":false},"axis":null}}},
{"data":{"name":"bm"},"mark":{"type":"line","color":"#ffff00","strokeWidth":1,"strokeDash":[4,4]},"encoding":{"y":{"field":"v","type":"quantitative","scale":{"domain":[215.94,293.94],"nice":false,"zero":false},"axis":null}}},
{"data":{"name":"sg"},"mark":{"type":"line","color":"#000000","strokeWidth":1,"strokeDash":[4,4]},"encoding":{"y":{"field":"v","type":"quantitative","scale":{"domain":[-1.315,2.539],"nice":false,"zero":false},"axis":null}}},
{"data":{"name":"md"},"mark":{"type":"line","color":"#0000ff","strokeWidth":3},"encoding":{"y":{"field":"v","type":"quantitative","scale":{"domain":[-1.315,2.539],"nice":false,"zero":false},"axis":{"orient":"left","values":[-1.2,-1,-0.8,-0.6,-0.4,-0.2,0,0.2,0.4,0.6,0.8,1,1.2,1.4,1.6,1.8,2,2.2],"labelExpr":"datum.value<0?'-'+replace(format(abs(datum.value),'.1f'),'.',','):replace(format(datum.value,'.1f'),'.',',')","offset":1,"title":"CCTMACD(","titleAngle":0,"titleAlign":"left","titleBaseline":"alphabetic","titleX":-48,"titleY":-6.5}}}},
{"data":{"name":"wm"},"mark":{"type":"rect","stroke":"#000000","strokeWidth":1,"fillOpacity":0},"encoding":{"x2":{"field":"t2"},"y":{"field":"a","type":"quantitative","scale":{"domain":[-1.315,2.539],"nice":false,"zero":false},"axis":null},"y2":{"field":"b"}}},
{"data":{"name":"wm"},"mark":{"type":"text","align":"left","baseline":"middle","color":"#000000","font":"Liberation Sans","fontSize":11,"dx":3},"encoding":{"y":{"field":"m","type":"quantitative","scale":{"domain":[-1.315,2.539],"nice":false,"zero":false},"axis":null},"text":{"field":"lab"}}},
{"data":{"name":"c"},"mark":{"type":"rule","color":"#000000","strokeWidth":1},"encoding":{"y":{"field":"l","type":"quantitative","scale":{"domain":[215.94,293.94],"nice":false,"zero":false},"axis":null},"y2":{"field":"h"}}},
{"data":{"name":"c"},"mark":{"type":"bar","size":3,"stroke":"#000000","strokeWidth":1},"encoding":{"y":{"field":"o","type":"quantitative","scale":{"domain":[215.94,293.94],"nice":false,"zero":false},"axis":null},"y2":{"field":"c"},"fill":{"condition":{"test":"datum.c>=datum.o","value":"#00ff00"},"value":"#ff00ff"}}}
],
"resolve":{"scale":{"y":"independent"},"axis":{"y":"independent"}}
},
{
"width":685,"height":82,
"encoding":{"x":{"field":"t","type":"quantitative","scale":{"domain":[-0.9375,213.125],"nice":false,"zero":false},"axis":null}},
"layer":[
{"data":{"name":"span"},"mark":{"type":"rule","opacity":0},"encoding":{"x2":{"field":"t2"},"y":{"datum":50,"type":"quantitative","scale":{"domain":[15.78,110.36],"nice":false,"zero":false},"axis":{"orient":"left","values":[40,60],"offset":1,"title":"SSTOC","titleAngle":0,"titleAlign":"left","titleBaseline":"alphabetic","titleX":-48,"titleY":6}}}},
{"data":{"name":"span"},"mark":{"type":"rule","color":"#00ff00","strokeWidth":1.5},"encoding":{"x2":{"field":"t2"},"y":{"datum":22,"type":"quantitative","scale":{"domain":[-2.06,106.26],"nice":false,"zero":false},"axis":null}}},
{"data":{"name":"span"},"mark":{"type":"rule","color":"#00ff00","strokeWidth":1.5},"encoding":{"x2":{"field":"t2"},"y":{"datum":6,"type":"quantitative","scale":{"domain":[-2.06,106.26],"nice":false,"zero":false},"axis":null}}},
{"data":{"name":"span"},"mark":{"type":"rule","color":"#ff0000","strokeWidth":1},"encoding":{"x2":{"field":"t2"},"y":{"datum":76,"type":"quantitative","scale":{"domain":[-2.06,106.26],"nice":false,"zero":false},"axis":null}}},
{"data":{"name":"span"},"mark":{"type":"rule","color":"#ff0000","strokeWidth":1},"encoding":{"x2":{"field":"t2"},"y":{"datum":71,"type":"quantitative","scale":{"domain":[-2.06,106.26],"nice":false,"zero":false},"axis":null}}},
{"data":{"name":"str"},"mark":{"type":"line","color":"#ff0000","strokeWidth":1},"encoding":{"y":{"field":"v","type":"quantitative","scale":{"domain":[-2.06,106.26],"nice":false,"zero":false},"axis":null}}},
{"data":{"name":"sty"},"mark":{"type":"line","color":"#ffff00","strokeWidth":1},"encoding":{"y":{"field":"v","type":"quantitative","scale":{"domain":[-2.06,106.26],"nice":false,"zero":false},"axis":null}}},
{"data":{"name":"stc"},"mark":{"type":"line","color":"#00ffff","strokeWidth":1.5},"encoding":{"y":{"field":"v","type":"quantitative","scale":{"domain":[-2.06,106.26],"nice":false,"zero":false},"axis":null}}},
{"data":{"name":"stg"},"mark":{"type":"line","color":"#00ff00","strokeWidth":3},"encoding":{"y":{"field":"v","type":"quantitative","scale":{"domain":[-2.06,106.26],"nice":false,"zero":false},"axis":{"orient":"right","values":[20,40,60],"offset":2,"title":"SSTOC","titleAngle":0,"titleAlign":"left","titleBaseline":"alphabetic","titleX":21,"titleY":6}}}}
],
"resolve":{"scale":{"y":"independent"},"axis":{"y":"independent"}}
},
{
"width":685,"height":66,
"encoding":{"x":{"field":"t","type":"quantitative","scale":{"domain":[-0.9375,213.125],"nice":false,"zero":false},"axis":{"values":[9.375,31.25,52.8,74.4,96.6,117.2,139.1,160.9,179.7,201.6],"labelExpr":"datum.value<20?'Mai':datum.value<40?'Jun':datum.value<60?'Jul':datum.value<80?'Aug':datum.value<100?'Sep':datum.value<125?'Okt':datum.value<150?'Nov':datum.value<170?'Dez':datum.value<190?'2007':'Feb'","tickSize":5,"offset":1,"labelAlign":"left","labelPadding":3,"labelFlush":false,"labelOverlap":false,"labelBound":false,"title":null}}},
"layer":[
{"data":{"name":"span"},"mark":{"type":"rule","opacity":0},"encoding":{"x2":{"field":"t2"},"y":{"datum":0,"type":"quantitative","scale":{"domain":[-0.843,0.703],"nice":false,"zero":false},"axis":{"orient":"left","values":[0,-0.5],"labelExpr":"datum.value<0?'-'+replace(format(abs(datum.value),'.1f'),'.',','):replace(format(datum.value,'.1f'),'.',',')","offset":1,"title":"XBXB","titleAngle":0,"titleAlign":"left","titleBaseline":"alphabetic","titleX":-48,"titleY":5}}}},
{"data":{"name":"c"},"mark":{"type":"rule","color":"#ff0000","strokeWidth":1},"encoding":{"y":{"field":"hb","type":"quantitative","scale":{"domain":[-280.6,233.8],"nice":false,"zero":false},"axis":null},"y2":{"datum":0}}},
{"data":{"name":"span"},"mark":{"type":"rule","color":"#e00000","strokeWidth":1},"encoding":{"x2":{"field":"t2"},"y":{"datum":100,"type":"quantitative","scale":{"domain":[-280.6,233.8],"nice":false,"zero":false},"axis":null}}},
{"data":{"name":"span"},"mark":{"type":"rule","color":"#00a000","strokeWidth":1},"encoding":{"x2":{"field":"t2"},"y":{"datum":-100,"type":"quantitative","scale":{"domain":[-280.6,233.8],"nice":false,"zero":false},"axis":null}}},
{"data":{"name":"fu"},"mark":{"type":"area","color":"#cc44cc"},"encoding":{"detail":{"field":"g"},"y":{"field":"v","type":"quantitative","scale":{"domain":[-280.6,233.8],"nice":false,"zero":false},"axis":null},"y2":{"datum":100}}},
{"data":{"name":"fd"},"mark":{"type":"area","color":"#33bb33"},"encoding":{"detail":{"field":"g"},"y":{"field":"v","type":"quantitative","scale":{"domain":[-280.6,233.8],"nice":false,"zero":false},"axis":null},"y2":{"datum":-100}}},
{"data":{"name":"xw"},"mark":{"type":"line","color":"#ffffff","strokeWidth":2,"strokeDash":[6,4]},"encoding":{"y":{"field":"v","type":"quantitative","scale":{"domain":[-280.6,233.8],"nice":false,"zero":false},"axis":null}}},
{"data":{"name":"xb"},"mark":{"type":"line","color":"#000000","strokeWidth":3},"encoding":{"y":{"field":"v","type":"quantitative","scale":{"domain":[-280.6,233.8],"nice":false,"zero":false},"axis":{"orient":"right","values":[0,-200],"labelExpr":"datum.value<0?'-'+format(abs(datum.value),'d'):format(datum.value,'d')","offset":2,"title":null}}}}
],
"resolve":{"scale":{"y":"independent"},"axis":{"y":"independent"}}
}
]
}
